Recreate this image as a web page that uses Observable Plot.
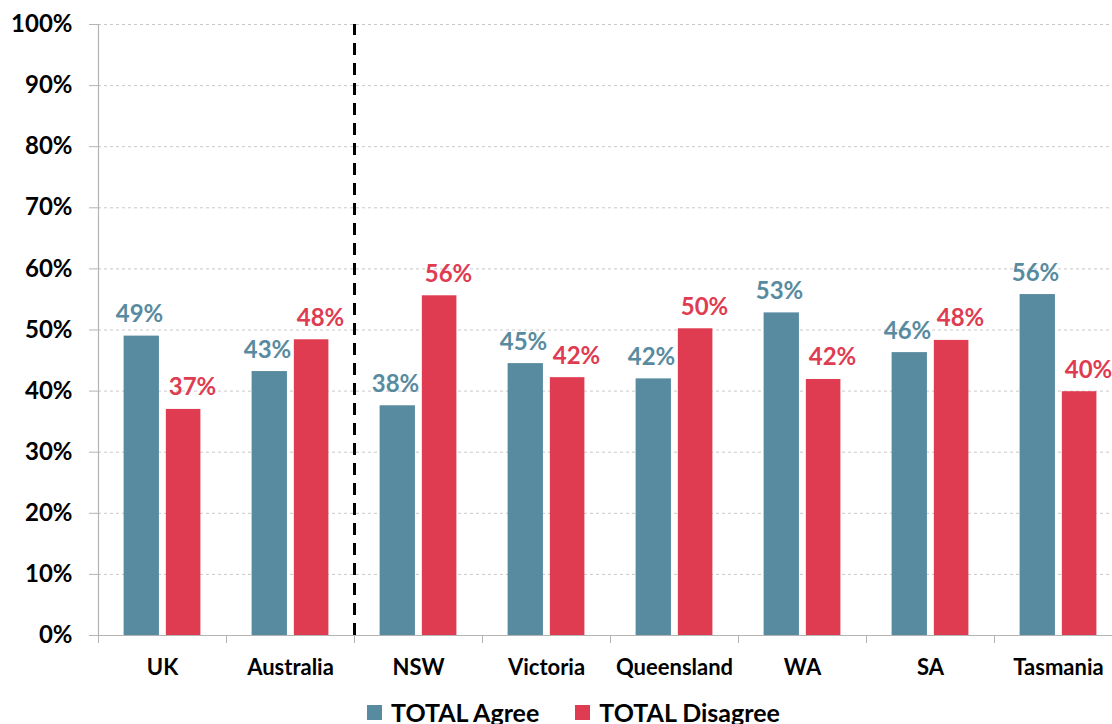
<!DOCTYPE html>
<html>
<head>
<meta charset="utf-8">
<script src="https://cdn.jsdelivr.net/npm/d3@7"></script>
<script src="https://cdn.jsdelivr.net/npm/@observablehq/plot@0.6"></script>
<style>
  html, body { margin: 0; padding: 0; background: #fff; overflow: hidden; width: 1112px; height: 724px; }
  body { position: relative; font-family: Lato, "Open Sans", sans-serif; }
  #chart { position: absolute; left: 0; top: 0; }
  #chart svg { max-width: none !important; }
  #legend { position: absolute; left: 367px; top: 697px; display: flex; align-items: center; font-weight: bold; font-size: 25px; color: #000; white-space: nowrap; }
  #legend .item { display: flex; align-items: center; margin-right: 36px; }
  #legend .sw { width: 15px; height: 15px; margin-right: 9px; }
</style>
</head>
<body>
<div id="chart"></div>
<div id="legend"></div>
<script>
const categories = ["UK", "Australia", "NSW", "Victoria", "Queensland", "WA", "SA", "Tasmania"];
const agree = [49.0, 43.2, 37.6, 44.5, 42.0, 52.8, 46.3, 55.8];
const disagree = [37.0, 48.4, 55.6, 42.2, 50.2, 41.9, 48.3, 39.9];
const seriesNames = ["TOTAL Agree", "TOTAL Disagree"];
const seriesColors = ["#598ba0", "#e03c51"];
const yTicks = [0, 10, 20, 30, 40, 50, 60, 70, 80, 90, 100];
const divider = "NSW";

const agreeData = categories.map((c, i) => ({category: c, value: agree[i]}));
const disagreeData = categories.map((c, i) => ({category: c, value: disagree[i]}));

const W = 1122, mL = 98, mT = 24, mB = 45, H = 680;
const step = (W - mL) / categories.length; // band width in px

const plot = Plot.plot({
  width: W,
  height: H,
  marginLeft: mL,
  marginRight: 0,
  marginTop: mT,
  marginBottom: mB,
  style: {fontFamily: "Lato, 'Open Sans', sans-serif", background: "#fff", overflow: "visible", maxWidth: "none"},
  x: {domain: categories, padding: 0, axis: null, label: null},
  y: {domain: [0, 100], axis: null, label: null},
  marks: [
    Plot.gridY(yTicks.filter(d => d > 0), {stroke: "#c8c8c8", strokeOpacity: 1, strokeDasharray: "3,3"}),
    Plot.barY(agreeData, {x: "category", y: "value", fill: seriesColors[0], insetLeft: step * 0.2, insetRight: step * 0.524}),
    Plot.barY(disagreeData, {x: "category", y: "value", fill: seriesColors[1], insetLeft: step * 0.53, insetRight: step * 0.2}),
    Plot.text(agreeData, {x: "category", y: "value", text: d => Math.round(d.value) + "%", dx: -step * 0.164 - 2, dy: -14, lineAnchor: "bottom", fill: seriesColors[0], fontSize: 24, fontWeight: "bold"}),
    Plot.text(disagreeData, {x: "category", y: "value", text: d => Math.round(d.value) + "%", dx: step * 0.164 + 9, dy: -14, lineAnchor: "bottom", fill: seriesColors[1], fontSize: 24, fontWeight: "bold"}),
    Plot.ruleY([0], {stroke: "#b4b4b4", strokeWidth: 1.2}),
    Plot.frame({anchor: "left", stroke: "#b4b4b4", strokeWidth: 1.2}),
    Plot.axisY({ticks: yTicks, tickFormat: d => d + "%", tickSize: 9, tickPadding: 17, stroke: "#b4b4b4", fontSize: 24, fontWeight: "bold", fill: "#000", label: null}),
    Plot.axisX({tickSize: 8, text: null, dx: -step / 2, stroke: "#b4b4b4", label: null}),
    Plot.axisX({tickSize: 0, tickPadding: 24, fontSize: 22, fontWeight: "bold", fill: "#000", label: null}),
    Plot.ruleX([divider], {x: d => d, y1: 0, y2: 100, dx: -step / 2, stroke: "#000", strokeWidth: 3, strokeDasharray: "12,8"})
  ]
});
document.getElementById("chart").appendChild(plot);

const legend = document.getElementById("legend");
seriesNames.forEach((name, i) => {
  const item = document.createElement("div");
  item.className = "item";
  const sw = document.createElement("div");
  sw.className = "sw";
  sw.style.background = seriesColors[i];
  const label = document.createElement("span");
  label.textContent = name;
  item.appendChild(sw);
  item.appendChild(label);
  legend.appendChild(item);
});
</script>
</body>
</html>
